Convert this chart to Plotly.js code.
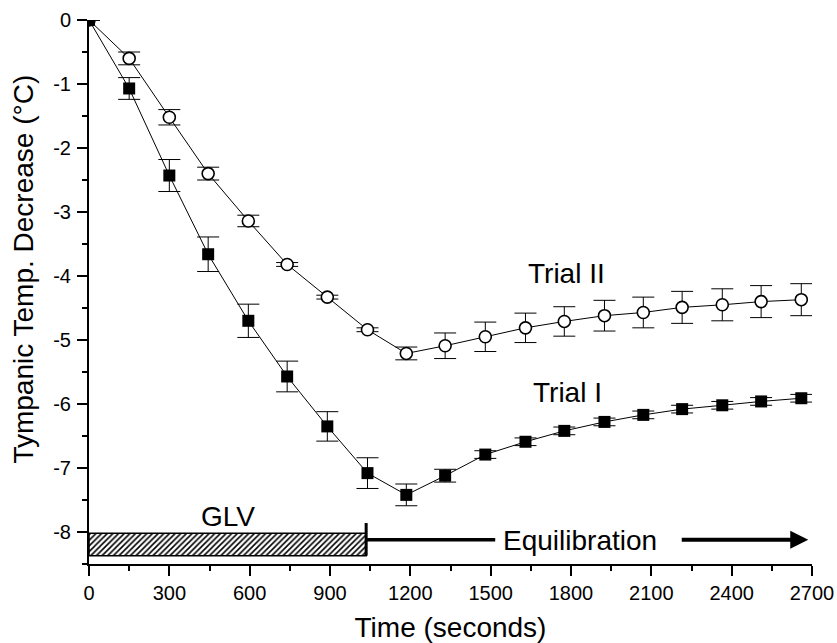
<!DOCTYPE html>
<html>
<head>
<meta charset="utf-8">
<script src="https://cdn.plot.ly/plotly-3.0.1.min.js"></script>
<style>
html,body{margin:0;padding:0;background:#fff;}
#chart{width:837px;height:643px;}
</style>
</head>
<body>
<div id="chart"></div>
<script>
// ---- data ----
const timeSec    = [0, 150, 300, 445, 595, 740, 890, 1040, 1185, 1330, 1480, 1630, 1775, 1925, 2070, 2215, 2365, 2510, 2660];
const trialI     = [0, -1.07, -2.43, -3.66, -4.70, -5.57, -6.35, -7.08, -7.42, -7.12, -6.79, -6.59, -6.42, -6.28, -6.17, -6.08, -6.02, -5.96, -5.91];
const trialIErr  = [0, 0.17, 0.25, 0.27, 0.26, 0.24, 0.23, 0.24, 0.17, 0.10, 0.06, 0.06, 0.06, 0.06, 0.06, 0.06, 0.06, 0.06, 0.06];
const trialII    = [0, -0.60, -1.52, -2.40, -3.14, -3.82, -4.33, -4.84, -5.21, -5.09, -4.95, -4.81, -4.71, -4.62, -4.57, -4.49, -4.45, -4.40, -4.37];
const trialIIErr = [0, 0.10, 0.12, 0.10, 0.09, 0.03, 0.03, 0.03, 0.10, 0.20, 0.23, 0.23, 0.23, 0.24, 0.24, 0.25, 0.25, 0.25, 0.25];

const xTickVals = [0, 300, 600, 900, 1200, 1500, 1800, 2100, 2400, 2700];
const xTickText = ['0', '300', '600', '900', '1200', '1500', '1800', '2100', '2400', '2700'];
const yTickVals = [0, -1, -2, -3, -4, -5, -6, -7, -8];
const yTickText = ['0', '-1', '-2', '-3', '-4', '-5', '-6', '-7', '-8'];

// GLV period and equilibration phase
const glvStart = 0;
const glvEnd = 1035;
const glvBarTop = -8.02;
const glvBarBottom = -8.37;
const phaseLineY = -8.12;

const FONT = 'Liberation Sans, Arial, Helvetica, sans-serif';
const TXT = 28;

const traces = [
  {
    // hatched GLV bar
    x: [glvStart, glvEnd, glvEnd, glvStart, glvStart],
    y: [glvBarTop, glvBarTop, glvBarBottom, glvBarBottom, glvBarTop],
    mode: 'lines',
    fill: 'toself',
    fillcolor: '#ffffff',
    fillpattern: {shape: '/', size: 4, solidity: 0.4, fgcolor: '#000000', bgcolor: '#ffffff'},
    line: {color: '#000000', width: 1.6},
    hoverinfo: 'skip',
    cliponaxis: false,
    showlegend: false
  },
  {
    name: 'Trial II',
    x: timeSec,
    y: trialII,
    mode: 'lines+markers',
    line: {color: '#000000', width: 1},
    marker: {symbol: 'circle', size: 12, color: '#ffffff', line: {color: '#000000', width: 1.6}},
    error_y: {type: 'data', array: trialIIErr, visible: true, color: '#000000', thickness: 1, width: 11}
  },
  {
    name: 'Trial I',
    x: timeSec,
    y: trialI,
    mode: 'lines+markers',
    line: {color: '#000000', width: 1},
    marker: {symbol: 'square', size: 12, color: '#000000', line: {color: '#000000', width: 0}},
    error_y: {type: 'data', array: trialIErr, visible: true, color: '#000000', thickness: 1, width: 11}
  }
];

const layout = {
  width: 837,
  height: 643,
  margin: {l: 89, r: 25, t: 20, b: 79, pad: 0},
  paper_bgcolor: '#ffffff',
  plot_bgcolor: '#ffffff',
  showlegend: false,
  font: {family: FONT, color: '#000000', size: 20},
  xaxis: {
    range: [0, 2700],
    tickmode: 'array',
    tickvals: xTickVals,
    ticktext: xTickText,
    ticks: 'outside',
    ticklen: 10,
    tickwidth: 2,
    tickcolor: '#000000',
    ticklabelstandoff: 0,
    tickfont: {family: FONT, size: 20, color: '#000000'},
    showline: true,
    linewidth: 2,
    linecolor: '#000000',
    showgrid: false,
    zeroline: false,
    minor: {ticks: 'outside', ticklen: 5, tickwidth: 2, tickcolor: '#000000', tickmode: 'linear', tick0: 0, dtick: 150, showgrid: false},
    title: {text: 'Time (seconds)', font: {family: FONT, size: TXT, color: '#000000'}, standoff: 14}
  },
  yaxis: {
    range: [-8.5, 0],
    tickmode: 'array',
    tickvals: yTickVals,
    ticktext: yTickText,
    ticks: 'outside',
    ticklen: 10,
    tickwidth: 2,
    tickcolor: '#000000',
    ticklabelstandoff: 2,
    tickfont: {family: FONT, size: 20, color: '#000000'},
    showline: true,
    linewidth: 2,
    linecolor: '#000000',
    showgrid: false,
    zeroline: false,
    minor: {ticks: 'outside', ticklen: 5, tickwidth: 2, tickcolor: '#000000', tickmode: 'linear', tick0: 0, dtick: 0.5, showgrid: false}
  },
  shapes: [
    {type: 'line', xref: 'x', yref: 'y', x0: glvEnd, x1: glvEnd, y0: -7.86, y1: glvBarBottom, line: {color: '#000000', width: 3}, layer: 'above'},
    {type: 'line', xref: 'x', yref: 'y', x0: glvEnd, x1: 1517, y0: phaseLineY, y1: phaseLineY, line: {color: '#000000', width: 3.5}, layer: 'above'}
  ],
  annotations: [
    {text: 'Tympanic Temp. Decrease (°C)', xref: 'paper', yref: 'y', x: 0, y: -3.9, xshift: -65, textangle: -90,
     showarrow: false, xanchor: 'center', yanchor: 'middle', font: {family: FONT, size: TXT, color: '#000000'}},
    {text: 'GLV', xref: 'x', yref: 'y', x: 519, y: -7.76, showarrow: false, font: {family: FONT, size: TXT, color: '#000000'}},
    {text: 'Equilibration', xref: 'x', yref: 'y', x: 1834, y: -8.14, showarrow: false, font: {family: FONT, size: TXT, color: '#000000'}},
    {text: 'Trial II', xref: 'x', yref: 'y', x: 1782, y: -3.96, showarrow: false, font: {family: FONT, size: TXT, color: '#000000'}},
    {text: 'Trial I', xref: 'x', yref: 'y', x: 1786, y: -5.82, showarrow: false, font: {family: FONT, size: TXT, color: '#000000'}},
    {text: '', xref: 'x', yref: 'y', x: 2686, y: phaseLineY, axref: 'x', ayref: 'y', ax: 2208, ay: phaseLineY,
     showarrow: true, arrowhead: 2, arrowsize: 0.9, arrowwidth: 4, arrowcolor: '#000000', standoff: 0, startstandoff: 0}
  ]
};

Plotly.newPlot('chart', traces, layout, {staticPlot: true, displayModeBar: false});
</script>
</body>
</html>
